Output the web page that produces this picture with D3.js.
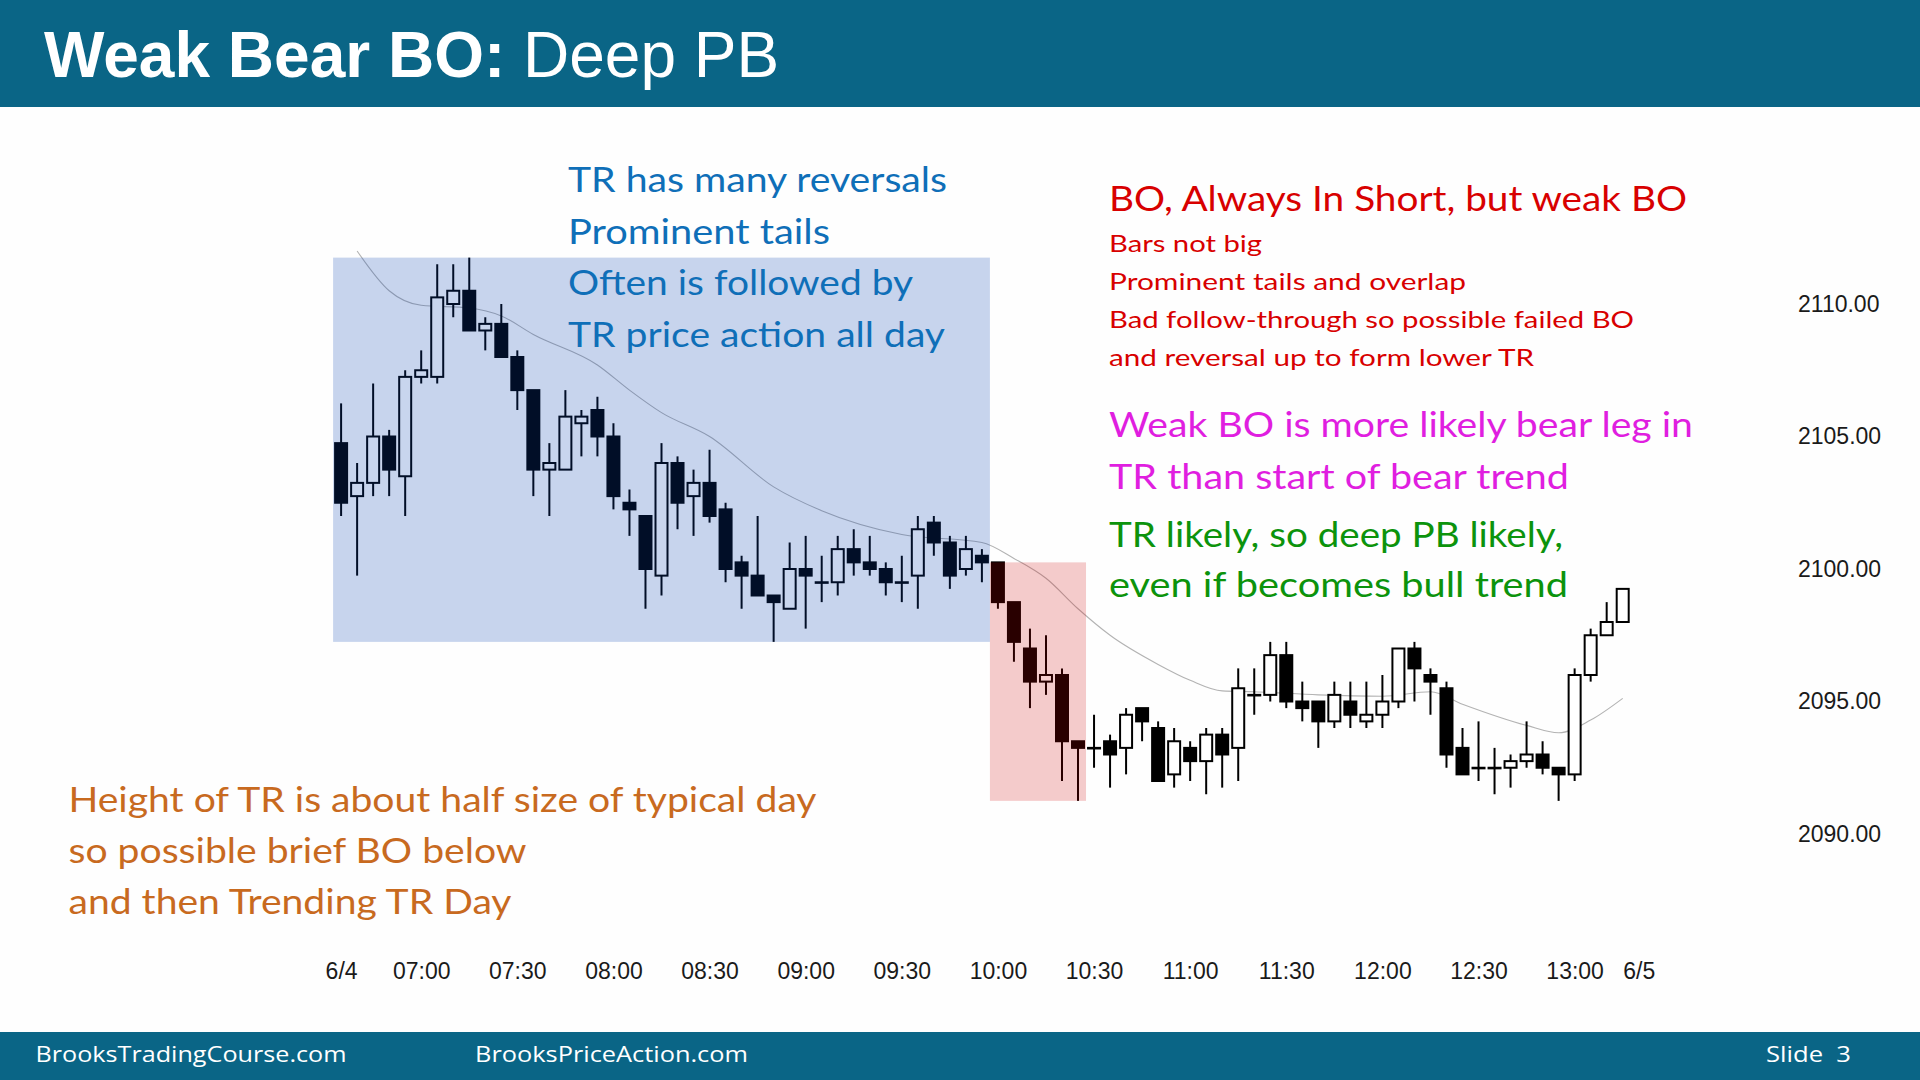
<!DOCTYPE html>
<html>
<head>
<meta charset="utf-8">
<script src="https://cdn.jsdelivr.net/npm/d3@7"></script>
<style>
  body { margin: 0; background: #fff; }
  svg { display: block; }
</style>
</head>
<body>
<div id="chart"></div>
<script>
// 5 min bars, 6/4 06:35 .. 13:15
var opens = [
  2104.75, 2102.75, 2103.25, 2105.0, 2103.5, 2107.25, 2107.25, 2110.0, 2110.5, 2109.0,
  2109.25, 2108.0, 2106.75, 2103.75, 2103.75, 2105.5, 2106.0, 2105.0, 2102.5, 2102.0,
  2099.75, 2104.0, 2102.75, 2103.25, 2102.25, 2100.25, 2099.75, 2099.0, 2098.5, 2100.0,
  2099.5, 2099.5, 2100.75, 2100.25, 2100.0, 2099.5, 2099.75, 2101.75, 2101.0, 2100.0,
  2100.5, 2100.25, 2098.75, 2097.0, 2095.75, 2096.0, 2093.5, 2093.25, 2093.5, 2093.25,
  2094.75, 2094.0, 2092.25, 2093.25, 2092.75, 2093.75, 2093.25, 2095.25, 2095.25, 2096.75,
  2095.0, 2095.0, 2094.25, 2095.0, 2094.25, 2094.5, 2095.0, 2097.0, 2096.0, 2095.5,
  2093.25, 2092.5, 2092.5, 2092.5, 2092.75, 2093.0, 2092.5, 2092.25, 2096.0, 2097.5,
  2098.0
];
var highs = [
  2106.25, 2104.0, 2107.0, 2105.25, 2107.5, 2108.25, 2111.5, 2111.5, 2111.75, 2109.5,
  2110.0, 2108.25, 2106.75, 2104.75, 2106.75, 2106.0, 2106.5, 2105.5, 2103.0, 2102.0,
  2104.75, 2104.25, 2103.75, 2104.5, 2102.5, 2100.5, 2102.0, 2099.0, 2101.0, 2101.25,
  2100.5, 2101.25, 2101.5, 2101.25, 2100.25, 2100.5, 2102.0, 2102.0, 2101.25, 2101.25,
  2100.75, 2100.25, 2098.75, 2097.75, 2097.5, 2096.25, 2093.5, 2094.5, 2093.75, 2094.75,
  2094.75, 2094.25, 2094.0, 2093.5, 2094.0, 2094.0, 2096.25, 2096.25, 2097.25, 2097.25,
  2095.75, 2095.0, 2095.75, 2095.75, 2095.75, 2096.0, 2097.0, 2097.25, 2096.25, 2095.75,
  2094.0, 2094.25, 2093.25, 2093.0, 2094.25, 2093.5, 2092.5, 2096.25, 2097.75, 2098.75,
  2099.25
];
var lows = [
  2102.0, 2099.75, 2102.75, 2102.75, 2102.0, 2107.0, 2107.0, 2109.5, 2109.0, 2108.25,
  2108.0, 2106.0, 2102.75, 2102.0, 2103.75, 2104.25, 2104.25, 2102.25, 2101.25, 2098.5,
  2099.0, 2101.5, 2101.25, 2101.75, 2099.5, 2098.5, 2099.0, 2097.25, 2098.5, 2097.75,
  2098.75, 2099.0, 2099.75, 2099.75, 2099.0, 2098.75, 2098.5, 2100.5, 2099.25, 2099.75,
  2099.5, 2098.5, 2096.5, 2094.75, 2095.25, 2092.0, 2091.25, 2092.5, 2091.75, 2092.25,
  2093.5, 2092.0, 2091.75, 2092.0, 2091.5, 2091.75, 2092.0, 2094.5, 2095.0, 2094.75,
  2094.25, 2093.25, 2094.0, 2094.0, 2094.0, 2094.0, 2094.75, 2095.0, 2094.5, 2092.5,
  2092.25, 2092.0, 2091.5, 2091.75, 2092.5, 2092.25, 2091.25, 2092.0, 2095.75, 2097.5,
  2098.0
];
var closes = [
  2102.5, 2103.25, 2105.0, 2103.75, 2107.25, 2107.5, 2110.25, 2110.5, 2109.0, 2109.25,
  2108.0, 2106.75, 2103.75, 2104.0, 2105.75, 2105.75, 2105.0, 2102.75, 2102.25, 2100.0,
  2104.0, 2102.5, 2103.25, 2102.0, 2100.0, 2099.75, 2099.0, 2098.75, 2100.0, 2099.75,
  2099.5, 2100.75, 2100.25, 2100.0, 2099.5, 2099.5, 2101.5, 2101.0, 2099.75, 2100.75,
  2100.25, 2098.75, 2097.25, 2095.75, 2096.0, 2093.5, 2093.25, 2093.25, 2093.0, 2094.5,
  2094.25, 2092.0, 2093.5, 2092.75, 2093.75, 2093.0, 2095.5, 2095.25, 2096.75, 2095.0,
  2094.75, 2094.25, 2095.25, 2094.5, 2094.5, 2095.0, 2097.0, 2096.25, 2095.75, 2093.0,
  2092.25, 2092.5, 2092.5, 2092.75, 2093.0, 2092.5, 2092.25, 2096.0, 2097.5, 2098.0,
  2099.25
];

// moving average at these bars
var maBars = [1, 3, 5, 8, 10, 12, 16, 18, 20, 23, 27, 30, 35, 40, 42, 44, 46, 48, 51,
  53, 55, 57, 61, 65, 68, 70, 74, 76, 78, 80];
var maValues = [2112.0, 2110.5, 2109.95, 2109.85, 2109.55, 2108.85, 2107.7, 2106.75,
  2105.9, 2105.0, 2103.1, 2102.2, 2101.3, 2101.0, 2100.4, 2099.65, 2098.5, 2097.5,
  2096.4, 2095.8, 2095.4, 2095.37, 2095.25, 2095.2, 2095.37, 2094.9, 2094.1, 2093.82,
  2094.3, 2095.12];

var timeTickBars = [0, 5, 11, 17, 23, 29, 35, 41, 47, 53, 59, 65, 71, 77, 81];
var timeTickLabels = ['6/4', '07:00', '07:30', '08:00', '08:30', '09:00', '09:30',
  '10:00', '10:30', '11:00', '11:30', '12:00', '12:30', '13:00', '6/5'];
var priceTicks = [2090, 2095, 2100, 2105, 2110];

// trading range bars and breakout bars
var rangeBars = [0, 40];
var breakoutBars = [41, 46];

var trNotes = ['TR has many reversals', 'Prominent tails', 'Often is followed by',
  'TR price action all day'];
var boHeading = ['BO, Always In Short, but weak BO'];
var boNotes = ['Bars not big', 'Prominent tails and overlap',
  'Bad follow-through so possible failed BO', 'and reversal up to form lower TR'];
var legNotes = ['Weak BO is more likely bear leg in', 'TR than start of bear trend'];
var pbNotes = ['TR likely, so deep PB likely,', 'even if becomes bull trend'];
var dayNotes = ['Height of TR is about half size of typical day',
  'so possible brief BO below', 'and then Trending TR Day'];
var footerLinks = ['BrooksTradingCourse.com', 'BrooksPriceAction.com'];

var chartWidth = 1920;
var chartHeight = 1080;
var teal = '#0a6586';

var svg = d3.select('#chart')
    .append('svg')
    .attr('width', chartWidth)
    .attr('height', chartHeight);

svg.append('rect')
    .attr('width', chartWidth)
    .attr('height', chartHeight)
    .attr('fill', '#fefefe');

// Scales
var scaleX = d3.scaleLinear()
    .domain([0, 80])
    .range([341.1, 1622.7]);

var scaleY = d3.scaleLinear()
    .domain([2090, 2110])
    .range([834, 304]);

var bars = opens.map(function(o, i) {
  return {i: i, o: o, h: highs[i], l: lows[i], c: closes[i]};
});

// Moving average
var maLine = d3.line()
    .x(function(d) { return scaleX(d[0]); })
    .y(function(d) { return scaleY(d[1]); })
    .curve(d3.curveMonotoneX);

svg.append('path')
    .datum(maBars.map(function(b, i) { return [b, maValues[i]]; }))
    .attr('d', maLine)
    .attr('fill', 'none')
    .attr('stroke', '#b3b3b3')
    .attr('stroke-width', 1.1);

// Candles
var candles = svg.append('g').attr('id', 'candles');

candles.selectAll('line')
    .data(bars)
    .enter()
    .append('line')
    .attr('x1', function(d) { return scaleX(d.i); })
    .attr('x2', function(d) { return scaleX(d.i); })
    .attr('y1', function(d) { return scaleY(d.h); })
    .attr('y2', function(d) { return scaleY(d.l); })
    .attr('stroke', '#000')
    .attr('stroke-width', 2);

candles.selectAll('rect')
    .data(bars)
    .enter()
    .append('rect')
    .attr('x', function(d) { return scaleX(d.i) - 6; })
    .attr('width', 12)
    .attr('y', function(d) { return scaleY(Math.max(d.o, d.c)); })
    .attr('height', function(d) {
      return Math.max(Math.abs(scaleY(d.o) - scaleY(d.c)), 0.6);
    })
    .attr('fill', function(d) { return d.c < d.o ? '#000' : '#fff'; })
    .attr('stroke', '#000')
    .attr('stroke-width', 2);

// Shaded zones over the bars
function zone(range, color, opacity) {
  var part = bars.slice(range[0], range[1] + 1);
  var top = scaleY(d3.max(part, function(d) { return d.h; }));
  var bottom = scaleY(d3.min(part, function(d) { return d.l; }));
  var left = scaleX(range[0]) - 8;
  var right = scaleX(range[1]) + 8;
  svg.append('rect')
      .attr('x', left)
      .attr('y', top)
      .attr('width', right - left)
      .attr('height', bottom - top)
      .attr('fill', color)
      .attr('opacity', opacity);
}
zone(rangeBars, '#0540b2', 0.22);
zone(breakoutBars, '#cc0000', 0.2);

// Axes
var axisY = d3.axisRight(scaleY)
    .tickValues(priceTicks)
    .tickFormat(d3.format('.2f'))
    .tickSize(0)
    .tickPadding(0);

var gy = svg.append('g')
    .attr('class', 'y-axis')
    .attr('transform', 'translate(1798,0)')
    .call(axisY);

var axisX = d3.axisBottom(scaleX)
    .tickValues(timeTickBars)
    .tickFormat(function(d, i) { return timeTickLabels[i]; })
    .tickSize(0)
    .tickPadding(8);

var gx = svg.append('g')
    .attr('class', 'x-axis')
    .attr('transform', 'translate(0,955)')
    .call(axisX);

[gx, gy].forEach(function(g) {
  g.select('.domain').remove();
  g.selectAll('text')
      .attr('fill', '#1a1a1a')
      .style('font-family', '"Liberation Sans", Arial, sans-serif')
      .style('font-size', '23px');
});

// Title and footer bars
svg.append('rect')
    .attr('width', chartWidth)
    .attr('height', 107)
    .attr('fill', teal);

var title = svg.append('text')
    .attr('x', 44)
    .attr('y', 77)
    .attr('fill', '#fff')
    .style('font-family', '"Liberation Sans", Arial, sans-serif')
    .style('font-size', '64px');
title.append('tspan').attr('font-weight', 'bold').text('Weak Bear BO:');
title.append('tspan').text(' Deep PB');

svg.append('rect')
    .attr('y', 1032)
    .attr('width', chartWidth)
    .attr('height', 48)
    .attr('fill', teal);

function textBlock(lines, x, baselines, size, color, widths, family) {
  svg.append('g')
      .selectAll('text')
      .data(lines)
      .enter()
      .append('text')
      .attr('x', x)
      .attr('y', function(d, i) { return baselines[i]; })
      .attr('textLength', function(d, i) { return widths[i]; })
      .attr('lengthAdjust', 'spacingAndGlyphs')
      .attr('fill', color)
      .style('white-space', 'pre')
      .style('font-family', family || 'Lato, "Open Sans", sans-serif')
      .style('font-size', size + 'px')
      .text(function(d) { return d; });
}

textBlock(trNotes, 568, [192, 243.5, 295, 346.5], 35, '#0f6fb8',
    [379, 262, 345, 377]);
textBlock(boHeading, 1109, [211], 35, '#d80000', [578]);
textBlock(boNotes, 1109, [252, 290, 328, 366], 23, '#d80000',
    [153, 357, 525, 425]);
textBlock(legNotes, 1109, [437, 488.5], 35, '#e01ee0', [584, 460]);
textBlock(pbNotes, 1109, [546.5, 597], 35, '#0c930c', [454, 459]);
textBlock(dayNotes, 68.5, [812, 862.5, 913.5], 35, '#c86a1f', [748, 458, 443]);

var footerFont = '"Open Sans", "Noto Sans", sans-serif';
textBlock(footerLinks.slice(0, 1), 35.5, [1062], 22, '#fff', [311], footerFont);
textBlock(footerLinks.slice(1), 475, [1062], 22, '#fff', [273], footerFont);
textBlock(['Slide  3'], 1766, [1062], 22, '#fff', [85], footerFont);
</script>
</body>
</html>
